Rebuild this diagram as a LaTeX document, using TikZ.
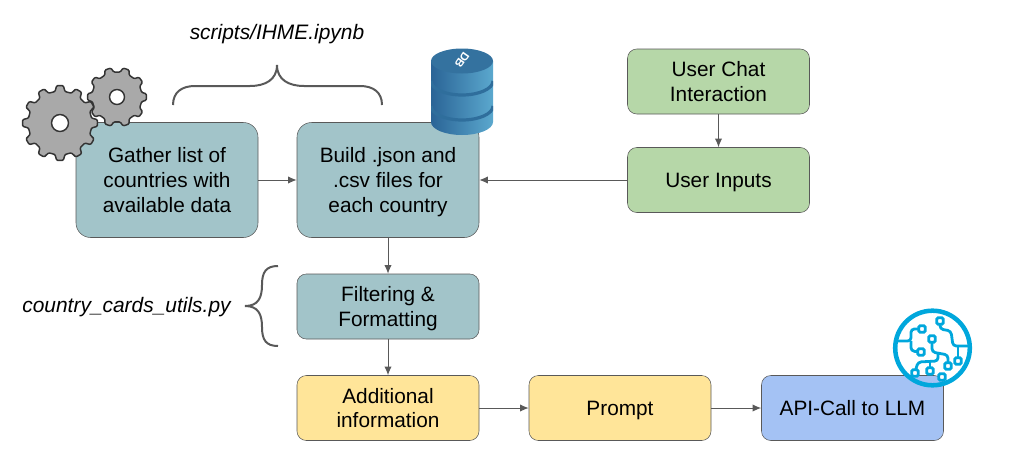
\documentclass[tikz,border=0pt]{standalone}
\usepackage{fontspec}
\setmainfont{Liberation Sans}
\definecolor{tealbox}{HTML}{A2C4C9}
\definecolor{greenbox}{HTML}{B6D7A8}
\definecolor{yellowbox}{HTML}{FFE599}
\definecolor{bluebox}{HTML}{A4C2F4}
\definecolor{linegrey}{HTML}{595959}
\definecolor{gearfill}{HTML}{A9A9A9}
\definecolor{gearline}{HTML}{333333}
\definecolor{dbdark}{HTML}{2A6496}
\definecolor{dblight}{HTML}{5BA8CE}
\definecolor{dbtop}{HTML}{34729F}
\definecolor{dbgroove}{HTML}{2F6E9C}
\definecolor{chipblue}{HTML}{00A7DC}
\usetikzlibrary{arrows.meta}
\tikzset{
  flowbox/.style={draw=linegrey, rounded corners=11pt, align=center, font=\fontsize{15.6}{18.6}\selectfont, inner sep=0pt, text depth=-1.5pt},
  flowline/.style={draw=linegrey, line width=0.75pt, -{Latex[length=6.5pt,width=5.5pt]}},
  bracket/.style={draw=linegrey, line width=1.5pt},
  chipline/.style={draw=chipblue, line width=2.1pt, rounded corners=2.5pt},
  chipdot/.style={draw=chipblue, fill=white, line width=2.1pt, rounded corners=1.2pt},
  gearbody/.style={draw=gearline, fill=gearfill, line width=1.1pt, line join=round, rounded corners=0.8pt},
  note/.style={font=\fontsize{15.7}{18}\selectfont\itshape}
}
\newcommand{\gearwheel}[5]{% x, y, outer radius, hole radius, teeth
  \pgfmathsetmacro{\gearstep}{360/#5}
  \draw[gearbody, even odd rule, shift={(#1,#2)}] (0:#3)
    \foreach \t [evaluate=\t as \ga using {(\t-1)*\gearstep}] in {1,...,#5}{
      -- (\ga+0.17*\gearstep:#3)
      -- (\ga+0.30*\gearstep:#3*0.85)
      -- (\ga+0.70*\gearstep:#3*0.85)
      -- (\ga+0.83*\gearstep:#3)
      -- (\ga+\gearstep:#3)
    } -- cycle (0,0) circle (#4);
}
\begin{document}
\begin{tikzpicture}[x=0.75pt, y=-0.75pt]
\useasboundingbox (0,0) rectangle (1010,471);
% boxes
\node[flowbox, fill=tealbox, minimum width=136.5pt, minimum height=86.25pt] (gather) at (167,180) {Gather list of\\countries with\\available data};
\node[flowbox, fill=tealbox, minimum width=136.5pt, minimum height=86.25pt] (build) at (388,180) {Build .json and\\.csv files for\\each country};
\node[flowbox, fill=tealbox, rounded corners=7pt, minimum width=136.5pt, minimum height=48.75pt] (filter) at (388,306.5) {Filtering \&\\Formatting};
\node[flowbox, fill=yellowbox, rounded corners=7pt, minimum width=136.5pt, minimum height=48.75pt] (extra) at (388,408) {Additional\\information};
\node[flowbox, fill=yellowbox, rounded corners=7pt, minimum width=136.5pt, minimum height=48.75pt] (prompt) at (620,408) {Prompt};
\node[flowbox, fill=bluebox, rounded corners=7pt, minimum width=136.5pt, minimum height=48.75pt] (api) at (852.5,408) {API-Call to LLM};
\node[flowbox, fill=greenbox, rounded corners=7pt, minimum width=136.5pt, minimum height=48.75pt] (chat) at (718.5,81.5) {User Chat\\Interaction};
\node[flowbox, fill=greenbox, rounded corners=7pt, minimum width=136.5pt, minimum height=48.75pt] (inputs) at (718.5,180) {User Inputs};
% connectors
\draw[flowline] (gather) -- (build);
\draw[flowline] (inputs) -- (build);
\draw[flowline] (chat) -- (inputs);
\draw[flowline] (build) -- (filter);
\draw[flowline] (filter) -- (extra);
\draw[flowline] (extra) -- (prompt);
\draw[flowline] (prompt) -- (api);
% notes
\node[note] (ipynb) at (277,34.5) {scripts/IHME.ipynb};
\node[note] (cards) at (126.5,307) {country\_cards\_utils.py};
\draw[bracket] (173,105) .. controls (173,92) and (182,86) .. (195,86) -- (250,86) .. controls (265,86) and (277,80) .. (277,65) .. controls (277,80) and (289,86) .. (304,86) -- (360,86) .. controls (373,86) and (382,92) .. (382,105);
\draw[bracket] (278,266) .. controls (266,266) and (262,272) .. (262,285) .. controls (262,298) and (258,306) .. (245,306) .. controls (258,306) and (262,314) .. (262,327) .. controls (262,340) and (266,346) .. (278,346);
% gears
\gearwheel{117}{97}{29.5}{7.5}{10}
\gearwheel{60}{123}{37.5}{8.5}{12}
% database
\begin{scope}
\clip (431,61) -- (431,122) arc[start angle=180, end angle=360, x radius=31, y radius=-13] -- (493,61) -- cycle;
\shade[left color=dbdark, right color=dblight] (431,49) rectangle (493,136);
\foreach \y in {80,105}{
  \draw[dbgroove, line width=2.4pt] (431,\y+1) arc[start angle=180, end angle=360, x radius=31, y radius=-14];
}
\end{scope}
\fill[dbtop] (462,61) ellipse[x radius=31, y radius=12.5];
\node[white, font=\bfseries\fontsize{8.5}{9}\selectfont, rotate=-125, inner sep=0pt] (dblabel) at (462,60) {DB};
% circuit icon
\draw[chipblue, line width=3.4pt] (932.5,348) circle (37.3);
\draw[chipline] (898,341) -- (911,341) -- (911,329) -- (921,329);
\draw[chipline] (911,341) -- (911,351) -- (921,352);
\draw[chipline] (940,321) -- (940,329) -- (951,331) -- (953,346) -- (968,346);
\draw[chipline] (958,346) -- (958,360);
\draw[chipline] (932,339) -- (932,352) -- (948,355) -- (948,365);
\draw[chipline] (938,353) -- (938,361) -- (918,362) -- (915,372);
\draw[chipline] (930,361) -- (930,370);
\foreach \cx/\cy/\dotname in {922/329/a,921/352/b,940/321/c,932/339/d,958/361/e,948/366/f,915/373/g,930/371/h,942/377/i}{
  \node[chipdot, minimum size=5pt, inner sep=0pt] (dot\dotname) at (\cx,\cy) {};
}
\end{tikzpicture}
\end{document}
